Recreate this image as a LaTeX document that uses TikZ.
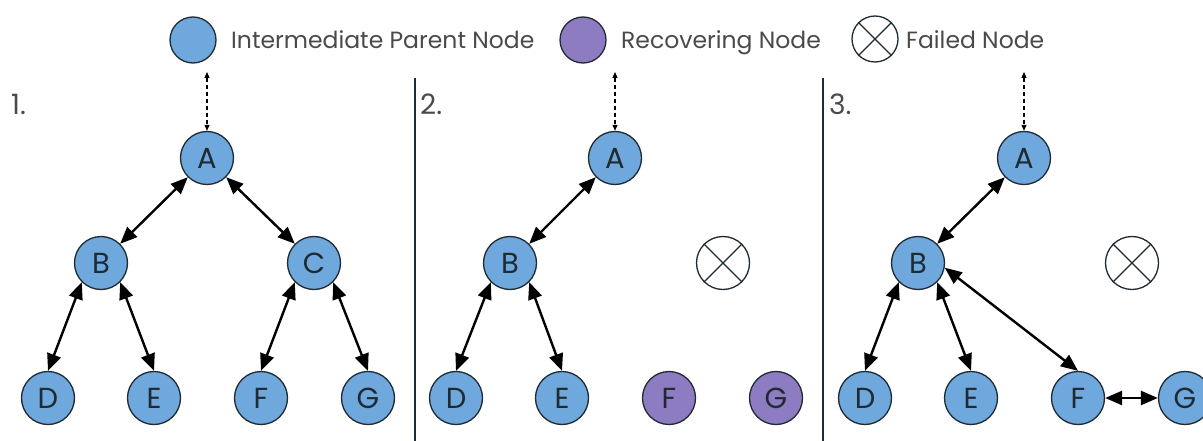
\documentclass[tikz,border=0pt]{standalone}
\usepackage{fontspec}
\setmainfont{Poppins}
\usetikzlibrary{arrows.meta}
\definecolor{nblue}{HTML}{6FA8DC}
\definecolor{npurple}{HTML}{8E7CC3}
\definecolor{nline}{HTML}{1F2A33}
\definecolor{ltext}{HTML}{4A4A4A}
\begin{document}
\begin{tikzpicture}[x=1pt,y=-1pt,
  nd/.style={circle,draw=nline,line width=1.3pt,minimum size=53pt,inner sep=0pt,
    font=\fontsize{29}{29}\selectfont,text=nline},
  bnode/.style={nd,fill=nblue},
  pnode/.style={nd,fill=npurple},
  fnode/.style={circle,draw=nline,line width=1.3pt,minimum size=53pt,inner sep=0pt,fill=white},
  lgnd/.style={circle,draw=nline,line width=1.3pt,minimum size=46pt,inner sep=0pt},
  ltxt/.style={anchor=base west,text=ltext,font=\fontsize{23.5}{23.5}\selectfont,inner sep=0pt},
  ptxt/.style={anchor=base west,text=ltext,font=\fontsize{28}{28}\selectfont,inner sep=0pt},
  biedge/.style={>={Triangle[length=17pt,width=14pt]},<->,line width=2.4pt,draw=black},
  dedge/.style={>={Triangle[length=6pt,width=5pt]},<->,line width=1.1pt,dash pattern=on 4pt off 3pt,draw=black},
  divider/.style={draw=nline,line width=1.3pt}
]
\useasboundingbox (0,0) rectangle (1203,441);

% legend
\node[lgnd,fill=nblue] (l1) at (193,40) {};
\node[ltxt] (l1t) at (231,49) {Intermediate Parent Node};
\node[lgnd,fill=npurple] (l2) at (583,40) {};
\node[ltxt] (l2t) at (621,49) {Recovering Node};
\node[lgnd,fill=white] (l3) at (875,39) {};
\draw[nline,line width=1.3pt] (l3.north east) -- (l3.south west) (l3.north west) -- (l3.south east);
\node[ltxt] (l3t) at (906,49) {Failed Node};

% dividers
\coordinate (v1t) at (415,78); \coordinate (v1b) at (415,441);
\coordinate (v2t) at (823,78); \coordinate (v2b) at (823,441);
\draw[divider] (v1t) -- (v1b);
\draw[divider] (v2t) -- (v2b);

% panel 1
\node[ptxt] (p1) at (11,115) {1.};
\node[bnode] (A1) at (207,158) {A};
\node[bnode] (B1) at (101,263) {B};
\node[bnode] (C1) at (314,263) {C};
\node[bnode] (D1) at (48,398) {D};
\node[bnode] (E1) at (154,398) {E};
\node[bnode] (F1) at (261,398) {F};
\node[bnode] (G1) at (368,398) {G};
\coordinate (T1) at (207,72);
\draw[dedge] (T1) -- (A1.north);
\draw[biedge] (A1.south west) -- (B1.north east);
\draw[biedge] (A1.south east) -- (C1.north west);
\draw[biedge] (B1.south west) -- (D1.north);
\draw[biedge] (B1.south east) -- (E1.north);
\draw[biedge] (C1.south west) -- (F1.north);
\draw[biedge] (C1.south east) -- (G1.north);

% panel 2
\node[ptxt] (p2) at (420,115) {2.};
\node[bnode] (A2) at (615,158) {A};
\node[bnode] (B2) at (510,263) {B};
\node[fnode] (X2) at (723,263) {};
\draw[nline,line width=1.3pt] (X2.north east) -- (X2.south west) (X2.north west) -- (X2.south east);
\node[bnode] (D2) at (456,398) {D};
\node[bnode] (E2) at (562,398) {E};
\node[pnode] (F2) at (669,398) {F};
\node[pnode] (G2) at (776,398) {G};
\coordinate (T2) at (615,72);
\draw[dedge] (T2) -- (A2.north);
\draw[biedge] (A2.south west) -- (B2.north east);
\draw[biedge] (B2.south west) -- (D2.north);
\draw[biedge] (B2.south east) -- (E2.north);

% panel 3
\node[ptxt] (p3) at (829,115) {3.};
\node[bnode] (A3) at (1024,158) {A};
\node[bnode] (B3) at (918,263) {B};
\node[fnode] (X3) at (1132,263) {};
\draw[nline,line width=1.3pt] (X3.north east) -- (X3.south west) (X3.north west) -- (X3.south east);
\node[bnode] (D3) at (865,398) {D};
\node[bnode] (E3) at (971,398) {E};
\node[bnode] (F3) at (1078,398) {F};
\node[bnode] (G3) at (1185,398) {G};
\coordinate (T3) at (1024,72);
\draw[dedge] (T3) -- (A3.north);
\draw[biedge] (A3.south west) -- (B3.north east);
\draw[biedge] (B3.south west) -- (D3.north);
\draw[biedge] (B3.south east) -- (E3.north);
\draw[biedge] (B3.-10) -- (F3.north);
\draw[biedge] (F3.east) -- (G3.west);
\end{tikzpicture}
\end{document}
